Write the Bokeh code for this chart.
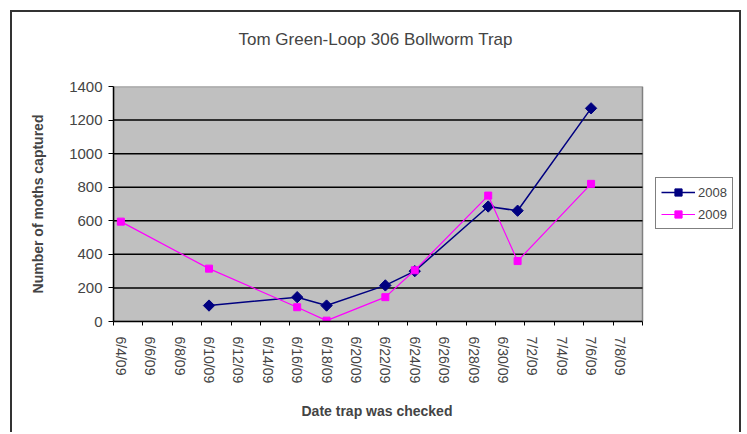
import math
import pandas as pd
from bokeh.plotting import figure
from bokeh.models import FixedTicker, Legend, LegendItem, Range1d, Title
from bokeh.embed import file_html
from bokeh.resources import INLINE

# ---- data ----
dates_2008 = ["6/10/09", "6/16/09", "6/18/09", "6/22/09", "6/24/09", "6/29/09", "7/1/09", "7/6/09"]
moths_2008 = [95, 145, 95, 215, 300, 685, 660, 1270]
dates_2009 = ["6/4/09", "6/10/09", "6/16/09", "6/18/09", "6/22/09", "6/24/09", "6/29/09", "7/1/09", "7/6/09"]
moths_2009 = [595, 315, 85, 5, 145, 305, 750, 360, 820]
tick_labels = ["6/4/09", "6/6/09", "6/8/09", "6/10/09", "6/12/09", "6/14/09", "6/16/09", "6/18/09",
               "6/20/09", "6/22/09", "6/24/09", "6/26/09", "6/28/09", "6/30/09", "7/2/09", "7/4/09",
               "7/6/09", "7/8/09"]
y_ticks = [0, 200, 400, 600, 800, 1000, 1200, 1400]
title_text = "Tom Green-Loop 306 Bollworm Trap"
x_title = "Date trap was checked"
y_title = "Number of moths captured"

start = pd.to_datetime(tick_labels[0], format="%m/%d/%y")


def day(s):
    return int((pd.to_datetime(s, format="%m/%d/%y") - start).days)


x2008 = [day(s) for s in dates_2008]
x2009 = [day(s) for s in dates_2009]
tick_pos = [day(s) for s in tick_labels]
bounds = [t - 0.5 for t in tick_pos] + [tick_pos[-1] + 1.5]
x_lo, x_hi = bounds[0], bounds[-1]
y_lo, y_hi = y_ticks[0], y_ticks[-1]

FONT = "Liberation Sans"

# plot-area geometry (pixels): gray area 529 px wide, frame extended right to hold the legend
AREA_W, FRAME_W, FRAME_H = 529, 626, 235
x_end = x_lo + (x_hi - x_lo) * FRAME_W / AREA_W

p = figure(frame_width=FRAME_W, frame_height=FRAME_H, output_backend="svg", toolbar_location=None,
           x_range=Range1d(x_lo, x_end), y_range=Range1d(y_lo, y_hi),
           min_border_left=101, min_border_right=0, min_border_top=74, min_border_bottom=0)
p.title_location = None
p.styles = {"border-top": "2px solid #333333", "border-left": "2px solid #333333",
            "border-right": "2px solid #333333", "margin-left": "10px", "margin-top": "10px"}

p.background_fill_color = "white"
p.border_fill_color = "white"
p.outline_line_color = None

# spacer + title above the frame
p.add_layout(Title(text=" ", text_font_size="2px", standoff=20), "above")
p.add_layout(Title(text=title_text, align="left", offset=125, text_font=FONT,
                   text_font_size="17px", text_font_style="normal", standoff=28), "above")

# gray plot area
p.quad(left=[x_lo], right=[x_hi], bottom=[y_lo], top=[y_hi],
       fill_color="#C0C0C0", line_color="#808080", line_width=1.5)
# horizontal grid lines
grid_y = y_ticks[1:-1]
p.segment(x0=[x_lo] * len(grid_y), x1=[x_hi] * len(grid_y), y0=grid_y, y1=grid_y,
          line_color="black", line_width=1.5)

# x axis
xa = p.xaxis[0]
xa.bounds = (x_lo, x_hi)
xa.ticker = FixedTicker(ticks=tick_pos, minor_ticks=bounds)
xa.major_label_overrides = {t: l for t, l in zip(tick_pos, tick_labels)}
xa.major_label_orientation = "vertical"
xa.major_tick_out = 0
xa.major_tick_in = 0
xa.minor_tick_out = 4
xa.minor_tick_in = 0
xa.minor_tick_line_color = "black"
xa.axis_line_color = "black"
xa.axis_line_width = 1.5
xa.major_label_text_font = FONT
xa.major_label_text_font_size = "14px"
xa.major_label_standoff = 11

# x axis title, centred under the gray area
p.add_layout(Title(text=x_title, align="left", offset=188, text_font=FONT,
                   text_font_size="14px", text_font_style="bold", standoff=28), "below")

# y axis
ya = p.yaxis[0]
ya.ticker = FixedTicker(ticks=y_ticks)
ya.major_tick_out = 5
ya.major_tick_in = 0
ya.minor_tick_line_color = None
ya.axis_line_color = "black"
ya.axis_line_width = 1.5
ya.major_label_text_font = FONT
ya.major_label_text_font_size = "15px"
ya.major_label_standoff = 6
ya.axis_label = y_title
ya.axis_label_text_font = FONT
ya.axis_label_text_font_size = "14px"
ya.axis_label_text_font_style = "bold"
ya.axis_label_standoff = 20

p.xgrid.visible = False
p.ygrid.visible = False

navy = "#000080"
mag = "#FF00FF"
l1 = p.line(x2008, moths_2008, line_color=navy, line_width=1.5)
s1 = p.scatter(x2008, moths_2008, marker="square", angle=math.pi / 4, size=8,
               fill_color=navy, line_color=navy)
l2 = p.line(x2009, moths_2009, line_color=mag, line_width=1.2)
s2 = p.scatter(x2009, moths_2009, marker="square", size=7, fill_color=mag, line_color=mag)

legend = Legend(items=[LegendItem(label="2008", renderers=[l1, s1]),
                       LegendItem(label="2009", renderers=[l2, s2])],
                location=(542, 92))
legend.border_line_color = "black"
legend.border_line_width = 1.5
legend.background_fill_color = "white"
legend.background_fill_alpha = 1
legend.label_text_font = FONT
legend.label_text_font_size = "13px"
legend.glyph_width = 34
legend.glyph_height = 18
legend.label_standoff = 3
legend.padding = 5
legend.spacing = 4
legend.margin = 0
p.add_layout(legend)

open("out.html", "w").write(file_html(p, INLINE))
